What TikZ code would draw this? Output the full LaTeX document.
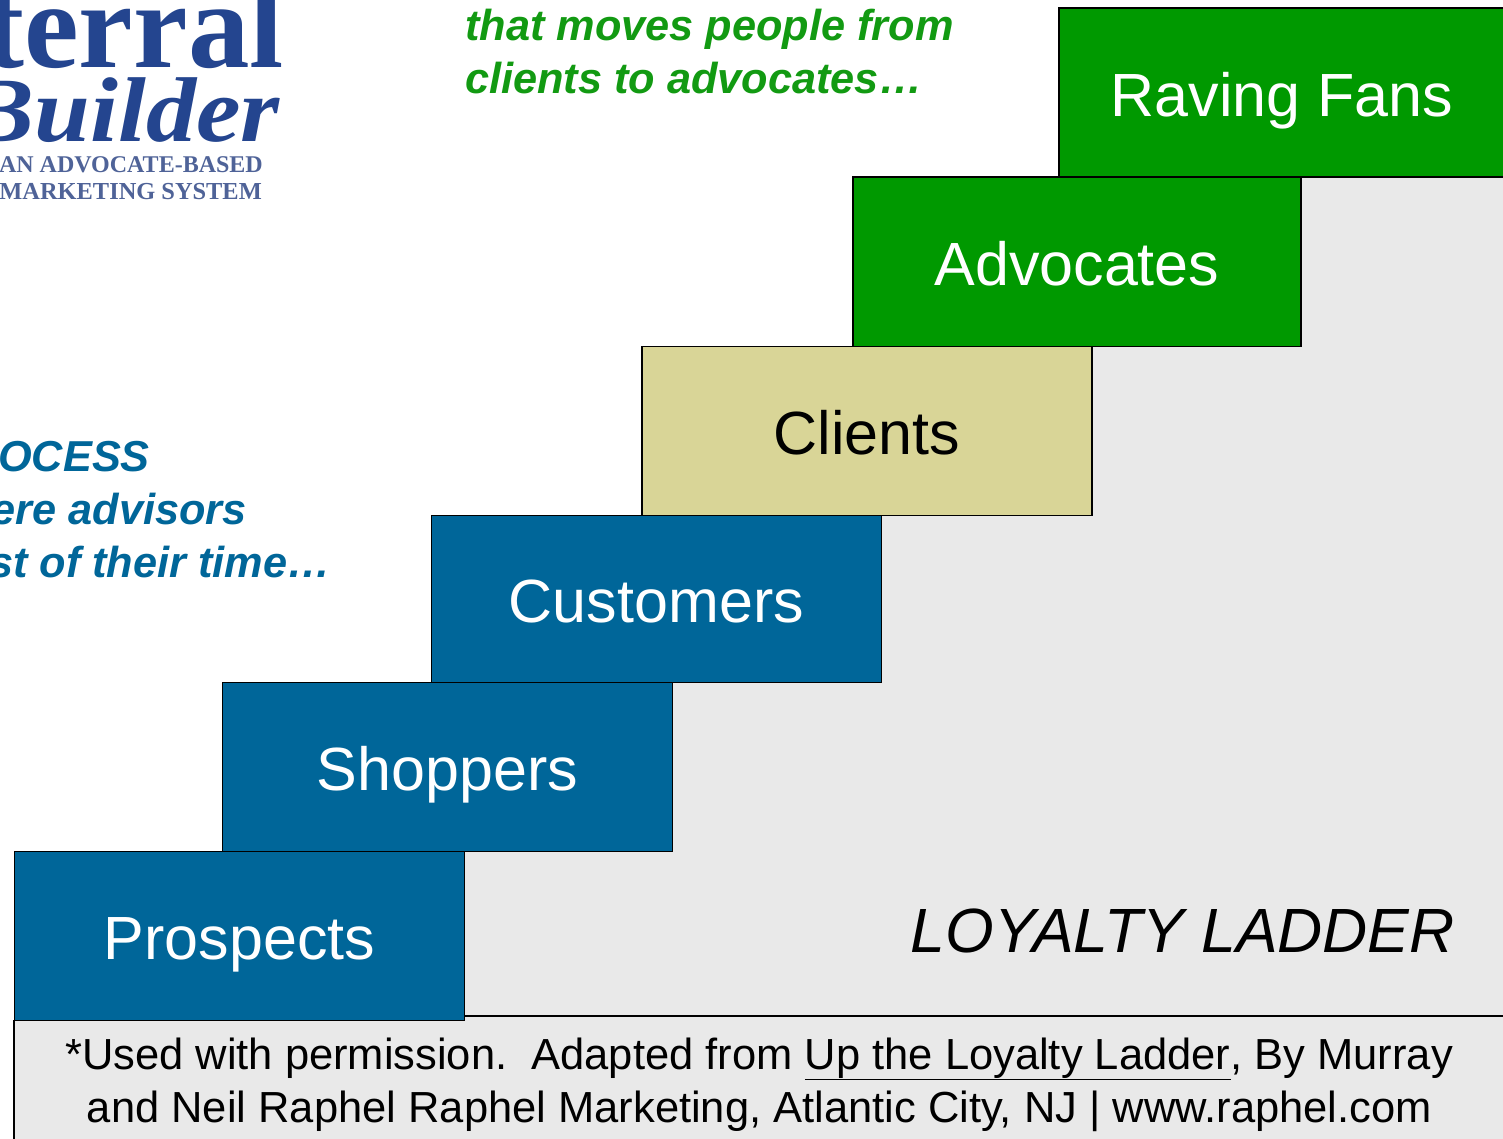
\documentclass[tikz,border=0pt]{standalone}
\usepackage{fontspec}
\setmainfont{Liberation Sans}
\newfontfamily\logofont{Liberation Serif}
\definecolor{stepblue}{HTML}{006699}
\definecolor{stepgreen}{HTML}{009900}
\definecolor{steptan}{HTML}{D9D597}
\definecolor{panelgrey}{HTML}{E9E9E9}
\definecolor{logoblue}{HTML}{24458F}
\definecolor{logosub}{HTML}{4F6398}
\definecolor{introgreen}{HTML}{129A12}
\begin{document}
\begin{tikzpicture}[x=1pt,y=-1pt,
  rung/.style={draw=black,line width=1.8pt,anchor=north west,minimum width=450,minimum height=169,inner sep=0,text height=47,text depth=0,font=\fontsize{61}{61}\selectfont,text=white},
  bluetext/.style={text=stepblue,font=\fontsize{43.3}{43.3}\selectfont\bfseries\itshape,anchor=base east,inner sep=0},
  greentext/.style={text=introgreen,font=\fontsize{43.3}{43.3}\selectfont\bfseries\itshape,anchor=base west,inner sep=0},
  logotext/.style={text=logoblue,inner sep=0,anchor=base east},
  logosubtext/.style={text=logosub,inner sep=0,anchor=base east},
  notetext/.style={inner sep=0,anchor=base,font=\fontsize{43.5}{43.5}\selectfont}]
\useasboundingbox (0,0) rectangle (1503,1139);
\fill[white] (0,0) rectangle (1503,1139);
% grey staircase panel
\fill[panelgrey] (1301,177) -- (1503,177) -- (1503,1139) -- (15,1139) -- (15,1020) -- (464,1020) -- (464,851) -- (673,851) -- (673,682) -- (881,682) -- (881,515) -- (1092,515) -- (1092,346) -- (1301,346) -- cycle;
\draw[line width=1.8pt] (14,1020) -- (14,1139);
\draw[line width=1.8pt] (464,1016) -- (1503,1016);
% rungs
\node[rung,fill=stepblue] (prospects) at (13.5,850.5) {Prospects};
\node[rung,fill=stepblue] (shoppers) at (221.5,681.5) {Shoppers};
\node[rung,fill=stepblue,minimum height=167] (customers) at (430.5,514.5) {Customers};
\node[rung,fill=steptan,text=black] (clients) at (641,345.5) {Clients};
\node[rung,fill=stepgreen,minimum width=448] (advocates) at (852,176.5) {Advocates};
\node[rung,fill=stepgreen,minimum width=446] (fans) at (1058,7.5) {Raving Fans};
% texts
\node[anchor=base east,inner sep=0,font=\fontsize{62.5}{62.5}\selectfont\itshape] (ladder) at (1455,952) {LOYALTY LADDER};
\node[notetext] (note1) at (759,1069) {*Used with permission.\ \ Adapted from \underline{Up the Loyalty Ladder}, By Murray};
\node[notetext] (note2) at (759.5,1122) {and Neil Raphel Raphel Marketing, Atlantic City, NJ | www.raphel.com};
\node[greentext] (intro1) at (465,41) {that moves people from};
\node[greentext] (intro2) at (465,94) {clients to advocates\dots};
\node[bluetext] (process1) at (150,471) {OCESS};
\node[bluetext] (process2) at (247,524) {ere advisors};
\node[bluetext] (process3) at (331,577) {st of their time\dots};
% logo
\node[logotext,font=\logofont\fontsize{123}{123}\selectfont\bfseries] (logo1) at (284,68) {terral};
\node[logotext,font=\logofont\fontsize{92}{92}\selectfont\bfseries\itshape,xscale=1.09] (logo2) at (280,142) {Builder};
\node[logosubtext,font=\logofont\fontsize{24}{24}\selectfont\bfseries] (logo3) at (263,173) {AN ADVOCATE-BASED};
\node[logosubtext,font=\logofont\fontsize{24.4}{24.4}\selectfont\bfseries] (logo4) at (262,200) {MARKETING SYSTEM};
\end{tikzpicture}
\end{document}
